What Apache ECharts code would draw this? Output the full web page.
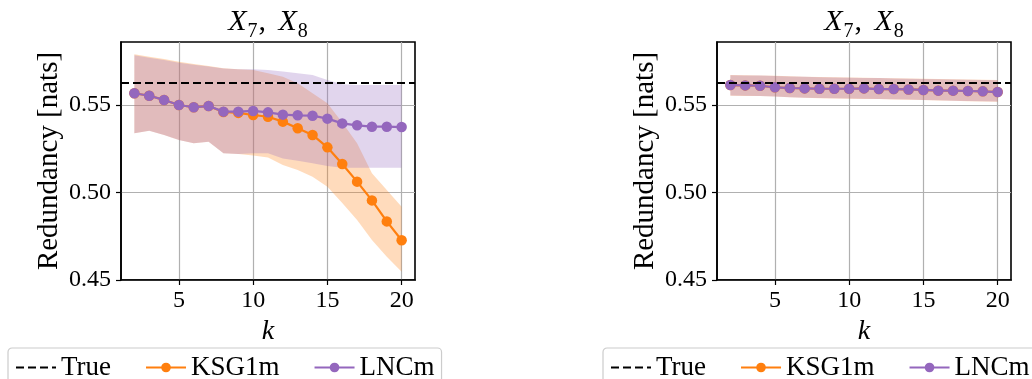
<!DOCTYPE html>
<html><head><meta charset="utf-8">
<script src="https://cdn.jsdelivr.net/npm/echarts@6/dist/echarts.min.js"></script>
<style>html,body{margin:0;padding:0;background:#fff}#c{width:1032px;height:379px}</style>
</head><body><div id="c"></div>
<script>
// ---- data ----
const kValues = [2,3,4,5,6,7,8,9,10,11,12,13,14,15,16,17,18,19,20];
const trueValue = 0.5627;
const xTicks = [5,10,15,20];
const yTicks = [0.45,0.50,0.55];
const seriesNames = ['True','KSG1m','LNCm'];
const panelTitle = ['X','7','X','8'];

// left panel
const leftKsgMean = [0.5567,0.5553,0.5529,0.5500,0.5487,0.5494,0.5460,0.5455,0.5443,0.5433,0.5405,0.5367,0.5329,0.5258,0.5163,0.5062,0.4955,0.4835,0.4727];
const leftKsgHi   = [0.5790,0.5776,0.5763,0.5747,0.5734,0.5723,0.5710,0.5704,0.5700,0.5681,0.5662,0.5624,0.5567,0.5510,0.5400,0.5281,0.5110,0.5014,0.4919];
const leftKsgLo   = [0.5338,0.5353,0.5329,0.5300,0.5281,0.5290,0.5224,0.5220,0.5212,0.5200,0.5157,0.5129,0.5090,0.5033,0.4940,0.4843,0.4729,0.4633,0.4547];
const leftLncMean = [0.5567,0.5553,0.5529,0.5500,0.5487,0.5494,0.5462,0.5462,0.5466,0.5458,0.5445,0.5441,0.5439,0.5422,0.5395,0.5384,0.5376,0.5376,0.5374];
const leftLncHi   = [0.5785,0.5770,0.5757,0.5742,0.5730,0.5720,0.5708,0.5704,0.5704,0.5700,0.5692,0.5681,0.5671,0.5643,0.5618,0.5614,0.5614,0.5614,0.5614];
const leftLncLo   = [0.5338,0.5353,0.5329,0.5300,0.5281,0.5290,0.5224,0.5220,0.5224,0.5224,0.5195,0.5182,0.5167,0.5152,0.5142,0.5142,0.5142,0.5142,0.5142];

// right panel
const rightKsgMean = [0.5614,0.5612,0.5610,0.5601,0.5597,0.5595,0.5593,0.5593,0.5593,0.5595,0.5591,0.5591,0.5589,0.5586,0.5582,0.5582,0.5580,0.5578,0.5574];
const rightKsgHi   = [0.5671,0.5670,0.5669,0.5667,0.5664,0.5662,0.5660,0.5658,0.5657,0.5656,0.5655,0.5653,0.5651,0.5650,0.5648,0.5647,0.5646,0.5644,0.5643];
const rightKsgLo   = [0.5553,0.5552,0.5551,0.5548,0.5544,0.5541,0.5539,0.5537,0.5536,0.5535,0.5534,0.5532,0.5530,0.5528,0.5526,0.5524,0.5522,0.5520,0.5519];
const rightLncMean = [0.5614,0.5612,0.5610,0.5601,0.5597,0.5595,0.5593,0.5593,0.5593,0.5595,0.5591,0.5591,0.5589,0.5586,0.5582,0.5582,0.5580,0.5578,0.5574];
const rightLncHi   = [0.5670,0.5669,0.5668,0.5666,0.5663,0.5661,0.5659,0.5657,0.5656,0.5655,0.5654,0.5652,0.5650,0.5649,0.5647,0.5646,0.5645,0.5643,0.5642];
const rightLncLo   = [0.5554,0.5553,0.5552,0.5549,0.5545,0.5542,0.5540,0.5538,0.5537,0.5536,0.5535,0.5533,0.5531,0.5529,0.5527,0.5525,0.5523,0.5521,0.5520];

// ---- styling / layout ----
const FONT = 'Liberation Serif';
const ORANGE = '#ff7f0e', PURPLE = '#9467bd';
const panels = [
  {left:121, cx:268, legendLeft:8,
   ksg:{mean:leftKsgMean, hi:leftKsgHi, lo:leftKsgLo},
   lnc:{mean:leftLncMean, hi:leftLncHi, lo:leftLncLo}},
  {left:717, cx:864, legendLeft:603,
   ksg:{mean:rightKsgMean, hi:rightKsgHi, lo:rightKsgLo},
   lnc:{mean:rightLncMean, hi:rightLncHi, lo:rightLncLo}}
];
const GRID_TOP = 42, GRID_H = 238, GRID_W = 294;

const pairs = (arr) => kValues.map((k, j) => [k, arr[j]]);

function band(i, b, fill) {
  return {
    type:'custom', xAxisIndex:i, yAxisIndex:i, silent:true, z:1, clip:true,
    data: kValues.map((k,j)=>[k, b.lo[j], b.hi[j]]),
    encode:{x:0, y:[1,2]},
    renderItem:(params, api) => {
      if (params.dataIndex !== 0) return null;
      const pts = [];
      kValues.forEach((k,j) => pts.push(api.coord([k, b.hi[j]])));
      for (let j = kValues.length - 1; j >= 0; j--) pts.push(api.coord([kValues[j], b.lo[j]]));
      return {type:'polygon', shape:{points:pts}, style:{fill:fill, stroke:null}};
    }
  };
}

const option = {
  animation:false,
  backgroundColor:'#fff',
  textStyle:{fontFamily:FONT},
  title: panels.map(p => ({
    left:p.cx, top:7, textAlign:'center', padding:0,
    text:'{i|'+panelTitle[0]+'}{s|'+panelTitle[1]+'}{n|, }{i|'+panelTitle[2]+'}{s|'+panelTitle[3]+'}',
    textStyle:{fontWeight:'normal', rich:{
      i:{fontFamily:FONT, fontStyle:'italic', fontWeight:'normal', fontSize:30, color:'#000', padding:[0,1,5,0], verticalAlign:'bottom'},
      n:{fontFamily:FONT, fontWeight:'normal', fontSize:30, color:'#000', padding:[0,5,5,1], verticalAlign:'bottom'},
      s:{fontFamily:FONT, fontWeight:'normal', fontSize:20, color:'#000', verticalAlign:'bottom'}
    }}
  })),
  legend: panels.map(p => ({
    left:p.legendLeft, top:348, orient:'horizontal', width:470,
    data:[{name:seriesNames[0], itemStyle:{opacity:0}}, seriesNames[1], seriesNames[2]],
    padding:[6,7,6,7], itemGap:34, itemWidth:40, itemHeight:12,
    backgroundColor:'#fff', borderColor:'#cccccc', borderWidth:1.2, borderRadius:4,
    textStyle:{fontFamily:FONT, fontSize:27, color:'#000'},
    selectedMode:false
  })),
  grid: panels.map(p => ({
    left:p.left, top:GRID_TOP, width:GRID_W, height:GRID_H,
    show:true, borderColor:'#000', borderWidth:1.6, backgroundColor:'transparent',
    containLabel:false, outerBoundsMode:'none'
  })),
  xAxis: panels.map((p,i) => ({
    gridIndex:i, type:'value', min:1.1, max:20.9,
    axisLine:{show:true, onZero:false, lineStyle:{color:'#000', width:1.6}},
    axisTick:{show:true, length:5, customValues:xTicks, lineStyle:{color:'#000', width:1.2}},
    axisLabel:{customValues:xTicks, margin:9, fontSize:24, fontFamily:FONT, color:'#000'},
    splitLine:{show:true, lineStyle:{color:'#b0b0b0', width:1.2}},
    name:'k', nameLocation:'middle', nameGap:36,
    nameTextStyle:{fontFamily:FONT, fontStyle:'italic', fontSize:28, color:'#000'}
  })),
  yAxis: panels.map((p,i) => ({
    gridIndex:i, type:'value', min:0.45, max:0.586,
    axisLine:{show:true, onZero:false, lineStyle:{color:'#000', width:1.6}},
    axisTick:{show:true, length:5, customValues:yTicks, lineStyle:{color:'#000', width:1.2}},
    axisLabel:{customValues:yTicks, margin:10, formatter:v=>v.toFixed(2), fontSize:24, fontFamily:FONT, color:'#000'},
    splitLine:{show:true, lineStyle:{color:'#b0b0b0', width:1.2}},
    name:'Redundancy [nats]', nameLocation:'middle', nameGap:57,
    nameTextStyle:{fontFamily:FONT, fontSize:29, color:'#000'}
  })),
  series: []
};

panels.forEach((p, i) => {
  option.series.push(band(i, p.ksg, 'rgba(255,127,14,0.28)'));
  option.series.push(band(i, p.lnc, 'rgba(148,103,189,0.28)'));
  option.series.push({type:'line', name:'KSG1m', xAxisIndex:i, yAxisIndex:i, data:pairs(p.ksg.mean),
    symbol:'circle', symbolSize:10.5, showSymbol:true,
    itemStyle:{color:ORANGE}, lineStyle:{color:ORANGE, width:2.2}, z:3});
  option.series.push({type:'line', name:'LNCm', xAxisIndex:i, yAxisIndex:i, data:pairs(p.lnc.mean),
    symbol:'circle', symbolSize:10.5, showSymbol:true,
    itemStyle:{color:PURPLE}, lineStyle:{color:PURPLE, width:2.2}, z:4});
  option.series.push({type:'line', name:'True', xAxisIndex:i, yAxisIndex:i, data:[],
    symbol:'none', itemStyle:{color:'#000'}, lineStyle:{color:'#000', width:2.2, type:[8,4]}, z:5,
    markLine:{silent:true, symbol:'none', precision:6, label:{show:false}, z:6,
      lineStyle:{color:'#000', width:2.2, type:[8,4]}, emphasis:{disabled:true},
      data:[{yAxis:trueValue}]}});
});

const chart = echarts.init(document.getElementById('c'), null, {renderer:'canvas'});
chart.setOption(option);
</script></body></html>
